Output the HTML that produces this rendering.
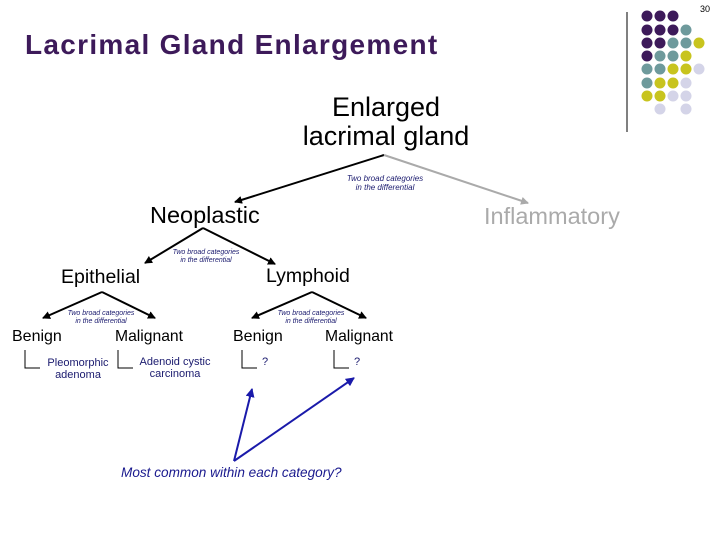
<!DOCTYPE html>
<html><head><meta charset="utf-8"><style>
body{margin:0;width:720px;height:540px;background:#fff;position:relative;overflow:hidden;font-family:"Liberation Sans",sans-serif}
.t{position:absolute;white-space:nowrap;line-height:1}
.s{position:absolute;font-style:italic;color:#1a1a6e;font-size:8px;text-align:center;line-height:9px;white-space:nowrap}
</style></head><body>
<svg width="720" height="540" style="position:absolute;left:0;top:0">
<defs>
<marker id="a" markerWidth="8" markerHeight="8" refX="7" refY="4" orient="auto" markerUnits="userSpaceOnUse"><path d="M0,0L8,4L0,8z" fill="#000"/></marker>
<marker id="g" markerWidth="8" markerHeight="8" refX="7" refY="4" orient="auto" markerUnits="userSpaceOnUse"><path d="M0,0L8,4L0,8z" fill="#aaa"/></marker>
<marker id="b" markerWidth="9" markerHeight="9" refX="8" refY="4.5" orient="auto" markerUnits="userSpaceOnUse"><path d="M0,0L9,4.5L0,9z" fill="#1a1aaa"/></marker>
</defs>
<line x1="627" y1="12" x2="627" y2="132" stroke="#000" stroke-width="1"/>
<g fill="#3d1a5a">
<circle cx="647" cy="16" r="5.5"/><circle cx="660" cy="16" r="5.5"/><circle cx="673" cy="16" r="5.5"/>
<circle cx="647" cy="30" r="5.5"/><circle cx="660" cy="30" r="5.5"/><circle cx="673" cy="30" r="5.5"/>
<circle cx="647" cy="43" r="5.5"/><circle cx="660" cy="43" r="5.5"/>
<circle cx="647" cy="56" r="5.5"/></g>
<g fill="#6e9a9c">
<circle cx="686" cy="30" r="5.5"/><circle cx="673" cy="43" r="5.5"/><circle cx="686" cy="43" r="5.5"/>
<circle cx="660" cy="56" r="5.5"/><circle cx="673" cy="56" r="5.5"/>
<circle cx="647" cy="69" r="5.5"/><circle cx="660" cy="69" r="5.5"/><circle cx="647" cy="83" r="5.5"/></g>
<g fill="#c8c41e">
<circle cx="699" cy="43" r="5.5"/><circle cx="686" cy="56" r="5.5"/><circle cx="673" cy="69" r="5.5"/><circle cx="686" cy="69" r="5.5"/>
<circle cx="660" cy="83" r="5.5"/><circle cx="673" cy="83" r="5.5"/><circle cx="647" cy="96" r="5.5"/><circle cx="660" cy="96" r="5.5"/></g>
<g fill="#d4d4e8">
<circle cx="699" cy="69" r="5.5"/><circle cx="686" cy="83" r="5.5"/><circle cx="673" cy="96" r="5.5"/><circle cx="686" cy="96" r="5.5"/>
<circle cx="660" cy="109" r="5.5"/><circle cx="686" cy="109" r="5.5"/></g>
<g stroke="#000" stroke-width="2" fill="none" marker-end="url(#a)">
<line x1="384" y1="155" x2="235" y2="202"/>
<line x1="203" y1="228" x2="145" y2="263"/><line x1="203" y1="228" x2="275" y2="264"/>
<line x1="102" y1="292" x2="43" y2="318"/><line x1="102" y1="292" x2="155" y2="318"/>
<line x1="312" y1="292" x2="252" y2="318"/><line x1="312" y1="292" x2="366" y2="318"/>
</g>
<line x1="384" y1="155" x2="528" y2="203" stroke="#aaa" stroke-width="2" marker-end="url(#g)"/>
<g stroke="#1a1aaa" stroke-width="2" marker-end="url(#b)">
<line x1="234" y1="461" x2="252" y2="389"/><line x1="234" y1="461" x2="354" y2="378"/>
</g>
<g stroke="#000" stroke-width="1" fill="none">
<path d="M25,350V368H40"/><path d="M118,350V368H133"/><path d="M242,350V368H257"/><path d="M334,350V368H349"/>
</g>
</svg>
<div class="t" style="left:700px;top:5px;font-size:9px">30</div>
<div class="t" style="left:25px;top:31px;font-size:28px;letter-spacing:1.3px;font-weight:bold;color:#3d1a5a">Lacrimal Gland Enlargement</div>
<div class="t" style="left:276px;top:93px;width:220px;text-align:center;font-size:27px;line-height:29px">Enlarged<br>lacrimal gland</div>
<div class="s" style="left:330px;top:174px;width:110px">Two broad categories<br>in the differential</div>
<div class="t" style="left:150px;top:204px;font-size:23.5px">Neoplastic</div>
<div class="t" style="left:484px;top:205px;font-size:23.5px;color:#aaa">Inflammatory</div>
<div class="s" style="left:160px;top:249px;width:92px;font-size:7px;line-height:8px">Two broad categories<br>in the differential</div>
<div class="t" style="left:61px;top:268px;font-size:19.5px">Epithelial</div>
<div class="t" style="left:266px;top:267px;font-size:19.5px">Lymphoid</div>
<div class="s" style="left:55px;top:310px;width:92px;font-size:7px;line-height:8px">Two broad categories<br>in the differential</div>
<div class="s" style="left:265px;top:310px;width:92px;font-size:7px;line-height:8px">Two broad categories<br>in the differential</div>
<div class="t" style="left:12px;top:329px;font-size:16px">Benign</div>
<div class="t" style="left:115px;top:329px;font-size:15.7px">Malignant</div>
<div class="t" style="left:233px;top:329px;font-size:16px">Benign</div>
<div class="t" style="left:325px;top:329px;font-size:15.7px">Malignant</div>
<div class="t" style="left:38px;top:357px;width:80px;text-align:center;font-size:11px;line-height:12px;color:#1a1a6e">Pleomorphic<br>adenoma</div>
<div class="t" style="left:133px;top:356px;width:84px;text-align:center;font-size:11px;line-height:12px;color:#1a1a6e">Adenoid cystic<br>carcinoma</div>
<div class="t" style="left:262px;top:357px;font-size:11px;color:#1a1a6e">?</div>
<div class="t" style="left:354px;top:357px;font-size:11px;color:#1a1a6e">?</div>
<div class="t" style="left:121px;top:466px;font-size:13.6px;font-style:italic;color:#1a1a8e">Most common within each category?</div>
</body></html>
